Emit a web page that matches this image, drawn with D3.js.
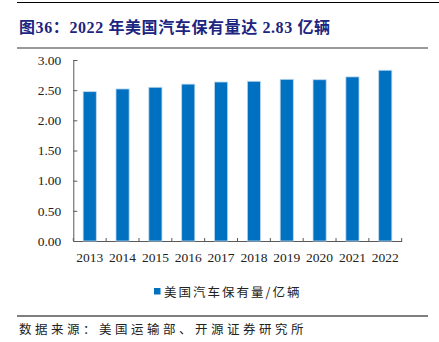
<!DOCTYPE html>
<html><head><meta charset="utf-8">
<script src="https://cdn.jsdelivr.net/npm/d3@7"></script>
<style>body{margin:0;background:#fff}svg{display:block}</style>
</head><body>
<script>
const categories = ["2013","2014","2015","2016","2017","2018","2019","2020","2021","2022"];
const values = [2.475, 2.52, 2.548, 2.60, 2.635, 2.647, 2.68, 2.673, 2.72, 2.83];
const yTicks = [0, 0.5, 1.0, 1.5, 2.0, 2.5, 3.0];
const titleText = "图36：2022 年美国汽车保有量达 2.83 亿辆";
const legendText = "美国汽车保有量/亿辆";
const sourceText = "数据来源：美国运输部、开源证券研究所";

const W = 439, H = 342;
const svg = d3.select("body").append("svg").attr("width", W).attr("height", H);
const serif = "'Liberation Serif','Times New Roman',serif";
const cjk = "'Noto Sans CJK SC',sans-serif";

// top and title rules
svg.append("line").attr("x1",17).attr("x2",439).attr("y1",2.5).attr("y2",2.5).attr("stroke","#000").attr("stroke-width",1.2);
svg.append("line").attr("x1",17).attr("x2",428).attr("y1",48).attr("y2",48).attr("stroke","#9a9a9a").attr("stroke-width",2);
svg.append("text").attr("x",19).attr("y",33).attr("fill","#1c2580")
  .attr("font-weight","bold").attr("font-size",16).attr("letter-spacing",0.6)
  .attr("font-family",serif+","+cjk).text(titleText);

const x = d3.scaleBand().domain(categories).range([73.3, 401.7]).paddingInner(0.6).paddingOuter(0.3);
const y = d3.scaleLinear().domain([0,3]).range([241,60]);

const axisColor = "#595959";
const gy = svg.append("g").attr("transform","translate(73.3,0)")
  .call(d3.axisLeft(y).tickValues(yTicks).tickFormat(d3.format(".2f")).tickSizeInner(-4).tickSizeOuter(-4).tickPadding(12));
const gx = svg.append("g").attr("transform","translate(0,241)")
  .call(d3.axisBottom(x).tickSize(0).tickPadding(11));
const bounds = categories.map(c => x(c) - x.step()*x.paddingInner()/2).concat([401.7]);
svg.append("g").selectAll("line").data(bounds).join("line")
  .attr("x1",d=>d).attr("x2",d=>d).attr("y1",238).attr("y2",241).attr("stroke",axisColor);

[gx, gy].forEach(g => {
  g.selectAll("path,line").attr("stroke",axisColor);
  g.selectAll("text").attr("font-family",serif).attr("font-size",13.5).attr("fill","#222");
});

svg.append("g").selectAll("rect").data(values).join("rect")
  .attr("x",(d,i)=>x(categories[i])).attr("width",x.bandwidth())
  .attr("y",d=>y(d)).attr("height",d=>y(0)-y(d))
  .attr("fill","#0070c0").attr("stroke","#bcd7ef").attr("stroke-width",0.8);

// legend
svg.append("rect").attr("x",154).attr("y",288).attr("width",6.5).attr("height",6.5).attr("fill","#0070c0");
svg.append("text").attr("x",164).attr("y",297).attr("font-family",cjk).attr("font-size",12.5)
  .attr("letter-spacing",2).attr("fill","#222").text(legendText);

// bottom rule and source
svg.append("line").attr("x1",17).attr("x2",428).attr("y1",316).attr("y2",316).attr("stroke","#000").attr("stroke-width",1.2);
svg.append("text").attr("x",19).attr("y",334).attr("font-family",cjk).attr("font-size",12.5)
  .attr("letter-spacing",3.5).attr("fill","#222").text(sourceText);
</script>
</body></html>
